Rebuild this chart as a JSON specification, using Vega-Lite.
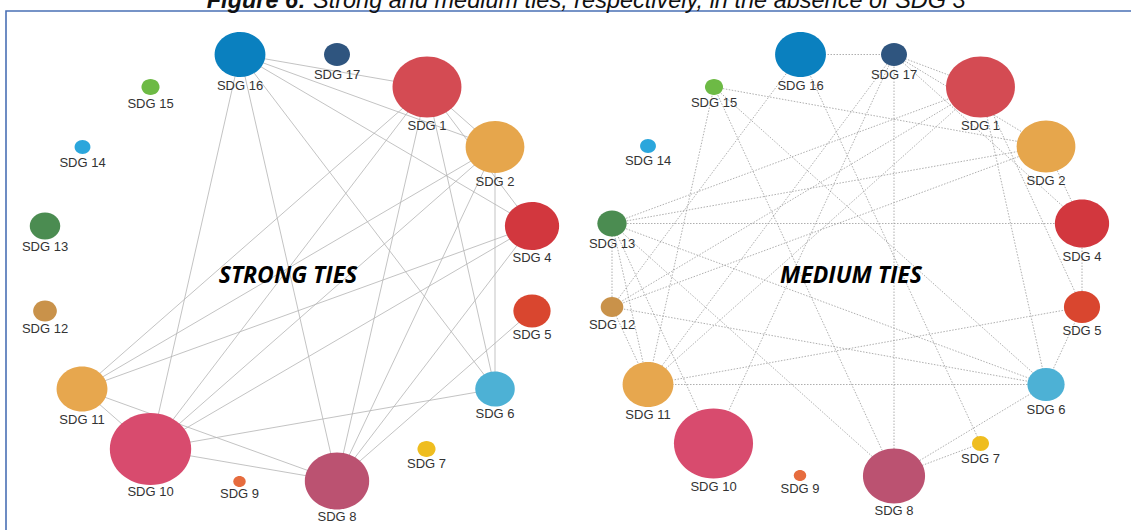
{
  "$schema": "https://vega.github.io/schema/vega-lite/v6.json",
  "width": 1127,
  "height": 521,
  "autosize": "none",
  "padding": {"left": 6, "top": 11, "right": -2, "bottom": -2},
  "background": "white",
  "config": {"view": {"stroke": "#4a70b5", "strokeWidth": 1.6}},
  "datasets": {
    "nodes": [
      {"id": "S16", "sdg": "SDG 16", "x": 240, "y": 54.5, "d": 45, "ly": 86},
      {"id": "S17", "sdg": "SDG 17", "x": 337, "y": 54.5, "d": 23, "ly": 74.5},
      {"id": "S1", "sdg": "SDG 1", "x": 427, "y": 87, "d": 61, "ly": 126},
      {"id": "S2", "sdg": "SDG 2", "x": 495, "y": 147, "d": 52, "ly": 182},
      {"id": "S4", "sdg": "SDG 4", "x": 532, "y": 226, "d": 48, "ly": 257.5},
      {"id": "S5", "sdg": "SDG 5", "x": 532, "y": 311, "d": 33, "ly": 334.5},
      {"id": "S6", "sdg": "SDG 6", "x": 495, "y": 389, "d": 35, "ly": 414},
      {"id": "S7", "sdg": "SDG 7", "x": 426.5, "y": 449, "d": 16, "ly": 463.5},
      {"id": "S8", "sdg": "SDG 8", "x": 337, "y": 481, "d": 57, "ly": 517},
      {"id": "S9", "sdg": "SDG 9", "x": 239.5, "y": 481.5, "d": 11, "ly": 494},
      {"id": "S10", "sdg": "SDG 10", "x": 150.5, "y": 449, "d": 72, "ly": 492},
      {"id": "S11", "sdg": "SDG 11", "x": 82, "y": 389, "d": 45, "ly": 419.5},
      {"id": "S12", "sdg": "SDG 12", "x": 45, "y": 311, "d": 21, "ly": 329},
      {"id": "S13", "sdg": "SDG 13", "x": 45, "y": 226, "d": 27, "ly": 246.5},
      {"id": "S14", "sdg": "SDG 14", "x": 82.5, "y": 147, "d": 14, "ly": 162.5},
      {"id": "S15", "sdg": "SDG 15", "x": 150.5, "y": 87, "d": 16, "ly": 103.5},
      {"id": "M16", "sdg": "SDG 16", "x": 800.5, "y": 54.5, "d": 45, "ly": 85.5},
      {"id": "M17", "sdg": "SDG 17", "x": 894, "y": 54.5, "d": 23, "ly": 74.5},
      {"id": "M1", "sdg": "SDG 1", "x": 980.5, "y": 87, "d": 61, "ly": 126},
      {"id": "M2", "sdg": "SDG 2", "x": 1046, "y": 146.5, "d": 52, "ly": 181},
      {"id": "M4", "sdg": "SDG 4", "x": 1082, "y": 223.5, "d": 48, "ly": 257},
      {"id": "M5", "sdg": "SDG 5", "x": 1082, "y": 307, "d": 32, "ly": 331},
      {"id": "M6", "sdg": "SDG 6", "x": 1046, "y": 384.5, "d": 33, "ly": 409.5},
      {"id": "M7", "sdg": "SDG 7", "x": 980.5, "y": 443.5, "d": 15, "ly": 458.5},
      {"id": "M8", "sdg": "SDG 8", "x": 894, "y": 476, "d": 55, "ly": 511},
      {"id": "M9", "sdg": "SDG 9", "x": 800, "y": 475.5, "d": 11, "ly": 488.5},
      {"id": "M10", "sdg": "SDG 10", "x": 713.5, "y": 443.5, "d": 70, "ly": 487},
      {"id": "M11", "sdg": "SDG 11", "x": 648, "y": 384.5, "d": 45, "ly": 414.5},
      {"id": "M12", "sdg": "SDG 12", "x": 612, "y": 307, "d": 20, "ly": 324.5},
      {"id": "M13", "sdg": "SDG 13", "x": 612, "y": 223.5, "d": 26, "ly": 243.5},
      {"id": "M14", "sdg": "SDG 14", "x": 648, "y": 146, "d": 14, "ly": 161},
      {"id": "M15", "sdg": "SDG 15", "x": 714, "y": 87, "d": 16, "ly": 103}
    ],
    "strong": [
      {"s": "S16", "t": "S1"}, {"s": "S16", "t": "S2"}, {"s": "S16", "t": "S4"},
      {"s": "S16", "t": "S6"}, {"s": "S16", "t": "S10"}, {"s": "S16", "t": "S8"},
      {"s": "S1", "t": "S2"}, {"s": "S1", "t": "S4"}, {"s": "S1", "t": "S6"},
      {"s": "S1", "t": "S8"}, {"s": "S1", "t": "S10"}, {"s": "S1", "t": "S11"},
      {"s": "S2", "t": "S6"}, {"s": "S2", "t": "S8"}, {"s": "S2", "t": "S10"},
      {"s": "S2", "t": "S11"}, {"s": "S4", "t": "S10"}, {"s": "S4", "t": "S11"},
      {"s": "S4", "t": "S8"}, {"s": "S5", "t": "S8"}, {"s": "S6", "t": "S10"},
      {"s": "S10", "t": "S11"}, {"s": "S10", "t": "S8"}, {"s": "S11", "t": "S8"}
    ],
    "medium": [
      {"s": "M16", "t": "M17"}, {"s": "M17", "t": "M1"}, {"s": "M17", "t": "M2"},
      {"s": "M17", "t": "M4"}, {"s": "M17", "t": "M8"}, {"s": "M17", "t": "M10"},
      {"s": "M17", "t": "M11"}, {"s": "M15", "t": "M2"}, {"s": "M15", "t": "M8"},
      {"s": "M15", "t": "M11"}, {"s": "M15", "t": "M6"}, {"s": "M16", "t": "M12"}, {"s": "M16", "t": "M7"},
      {"s": "M13", "t": "M1"}, {"s": "M13", "t": "M2"}, {"s": "M13", "t": "M4"},
      {"s": "M13", "t": "M12"}, {"s": "M13", "t": "M11"}, {"s": "M13", "t": "M10"},
      {"s": "M13", "t": "M8"}, {"s": "M13", "t": "M6"}, {"s": "M12", "t": "M1"}, {"s": "M12", "t": "M2"},
      {"s": "M12", "t": "M6"}, {"s": "M12", "t": "M11"}, {"s": "M11", "t": "M5"},
      {"s": "M11", "t": "M6"}, {"s": "M11", "t": "M1"}, {"s": "M8", "t": "M7"},
      {"s": "M8", "t": "M6"}, {"s": "M6", "t": "M5"}, {"s": "M6", "t": "M1"},
      {"s": "M4", "t": "M2"}, {"s": "M4", "t": "M5"}, {"s": "M1", "t": "M5"}
    ],
    "titles": [
      {"txt": "STRONG TIES", "x": 288, "y": 283},
      {"txt": "MEDIUM TIES", "x": 851, "y": 283}
    ],
    "caption1": [{"part": "Figure 6:", "x": 306, "y": 7.5}],
    "caption2": [{"part": "Strong and medium ties, respectively, in the absence of SDG 3", "x": 313, "y": 7.5}]
  },
  "encoding": {
    "x": {"type": "quantitative", "scale": {"domain": [6, 1133], "nice": false, "zero": false}, "axis": null},
    "y": {"type": "quantitative", "scale": {"domain": [11, 532], "nice": false, "zero": false, "reverse": true}, "axis": null}
  },
  "layer": [
    {
      "data": {"name": "strong"},
      "transform": [
        {"lookup": "s", "from": {"data": {"name": "nodes"}, "key": "id", "fields": ["x", "y"]}, "as": ["x1", "y1"]},
        {"lookup": "t", "from": {"data": {"name": "nodes"}, "key": "id", "fields": ["x", "y"]}, "as": ["x2", "y2"]}
      ],
      "mark": {"type": "rule", "color": "#b4b4b4", "strokeWidth": 0.8},
      "encoding": {
        "x": {"field": "x1", "type": "quantitative"},
        "y": {"field": "y1", "type": "quantitative"},
        "x2": {"field": "x2"},
        "y2": {"field": "y2"}
      }
    },
    {
      "data": {"name": "medium"},
      "transform": [
        {"lookup": "s", "from": {"data": {"name": "nodes"}, "key": "id", "fields": ["x", "y"]}, "as": ["x1", "y1"]},
        {"lookup": "t", "from": {"data": {"name": "nodes"}, "key": "id", "fields": ["x", "y"]}, "as": ["x2", "y2"]}
      ],
      "mark": {"type": "rule", "color": "#9a9a9a", "strokeWidth": 0.8, "strokeDash": [1.5, 1.5]},
      "encoding": {
        "x": {"field": "x1", "type": "quantitative"},
        "y": {"field": "y1", "type": "quantitative"},
        "x2": {"field": "x2"},
        "y2": {"field": "y2"}
      }
    },
    {
      "data": {"name": "nodes"},
      "mark": {"type": "point", "filled": true, "opacity": 1, "shape": "M-1.13,0A1.13,1,0,1,0,1.13,0A1.13,1,0,1,0,-1.13,0Z"},
      "encoding": {
        "x": {"field": "x", "type": "quantitative"},
        "y": {"field": "y", "type": "quantitative"},
        "size": {"field": "d", "type": "quantitative", "scale": {"type": "pow", "exponent": 2, "domain": [0, 100], "range": [0, 10000]}, "legend": null},
        "color": {
          "field": "sdg", "type": "nominal", "legend": null,
          "scale": {
            "domain": ["SDG 1", "SDG 2", "SDG 4", "SDG 5", "SDG 6", "SDG 7", "SDG 8", "SDG 9", "SDG 10", "SDG 11", "SDG 12", "SDG 13", "SDG 14", "SDG 15", "SDG 16", "SDG 17"],
            "range": ["#d44b53", "#e6a64c", "#d2373e", "#d9462f", "#4db1d5", "#efbd1f", "#bb5271", "#e66c3e", "#d84b6e", "#e7a74e", "#c9924a", "#4b8c51", "#2ba6dc", "#6dba45", "#0a80bf", "#2f557f"]
          }
        }
      }
    },
    {
      "data": {"name": "nodes"},
      "mark": {"type": "text", "font": "Liberation Sans", "fontSize": 13, "color": "#333333", "baseline": "middle", "align": "center"},
      "encoding": {
        "x": {"field": "x", "type": "quantitative"},
        "y": {"field": "ly", "type": "quantitative"},
        "text": {"field": "sdg"}
      }
    },
    {
      "data": {"name": "titles"},
      "mark": {"type": "text", "font": "Open Sans", "fontSize": 23, "fontWeight": "bold", "fontStyle": "italic", "color": "#000000", "baseline": "alphabetic", "align": "center"},
      "encoding": {
        "x": {"field": "x", "type": "quantitative"},
        "y": {"field": "y", "type": "quantitative"},
        "text": {"field": "txt"}
      }
    },
    {
      "data": {"name": "caption1"},
      "mark": {"type": "text", "font": "Liberation Sans", "fontSize": 23.5, "fontStyle": "italic", "fontWeight": "bold", "color": "#111111", "baseline": "alphabetic", "align": "right"},
      "encoding": {
        "x": {"field": "x", "type": "quantitative"},
        "y": {"field": "y", "type": "quantitative"},
        "text": {"field": "part"}
      }
    },
    {
      "data": {"name": "caption2"},
      "mark": {"type": "text", "font": "Liberation Sans", "fontSize": 23.5, "fontStyle": "italic", "color": "#111111", "baseline": "alphabetic", "align": "left"},
      "encoding": {
        "x": {"field": "x", "type": "quantitative"},
        "y": {"field": "y", "type": "quantitative"},
        "text": {"field": "part"}
      }
    }
  ]
}
